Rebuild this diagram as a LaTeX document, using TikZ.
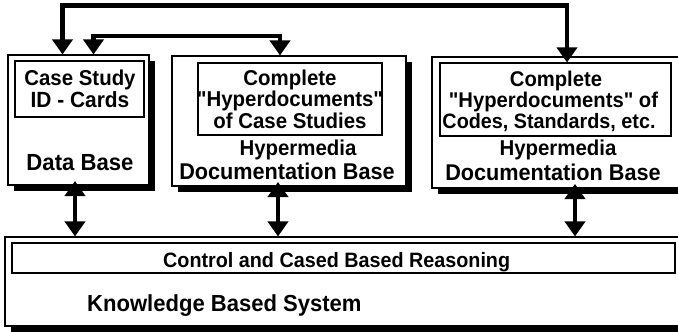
\documentclass[tikz,border=0pt]{standalone}
\usepackage{fontspec}
\setmainfont{Liberation Sans}[Ligatures=TeXOff, FakeStretch=0.95]
\usetikzlibrary{arrows.meta,shadows}
\tikzset{
  outerbox/.style={draw=black, line width=1.1pt, fill=white, inner sep=0pt,
    drop shadow={shadow xshift=5.5pt, shadow yshift=-6pt, fill=black, opacity=1}},
  innerbox/.style={draw=black, line width=1.1pt, fill=white, inner sep=0pt},
  conn/.style={line width=4.5pt, {Triangle[width=20pt,length=15pt]}-{Triangle[width=20pt,length=15pt]}},
  lbl/.style={anchor=base, inner sep=0pt, font=\bfseries},
}
\newcommand{\fs}[1]{\fontsize{#1}{#1}\selectfont}
\begin{document}
\begin{tikzpicture}[x=1pt,y=-1pt]
\clip (0,0) rectangle (678,332);
\fill[white] (0,0) rectangle (678,332);
% boxes
\node[outerbox, minimum width=141pt, minimum height=130pt] (b1) at (78.5,120) {};
\node[innerbox, minimum width=129pt, minimum height=56pt] (b1in) at (79.5,89) {};
\node[outerbox, minimum width=234pt, minimum height=130pt] (b2) at (289,121) {};
\node[innerbox, minimum width=184pt, minimum height=72pt] (b2in) at (290,99) {};
\node[outerbox, minimum width=258pt, minimum height=131pt] (b3) at (561,122.5) {};
\node[innerbox, minimum width=231pt, minimum height=73pt] (b3in) at (555.5,99.5) {};
\node[outerbox, minimum width=695pt, minimum height=89pt] (kb) at (352.5,281.5) {};
\node[innerbox, minimum width=663pt, minimum height=30pt] (kbin) at (343.5,258) {};
% texts
\node[lbl] (t1a) at (80,85) {\fs{21.5}Case Study};
\node[lbl] (t1b) at (80,107) {\fs{22}ID - Cards};
\node[lbl] (t1c) at (80,170) {\fs{23.3}Data Base};
\node[lbl] (t2a) at (290,85) {\fs{21.5}Complete};
\node[lbl] (t2b) at (290,106.5) {\fs{21.5}"Hyperdocuments"};
\node[lbl] (t2c) at (290,128) {\fs{21.5}of Case Studies};
\node[lbl] (t2d) at (298,155) {\fs{21.5}Hypermedia};
\node[lbl] (t2e) at (287,179) {\fs{22.8}Documentation Base};
\node[lbl] (t3a) at (556,86) {\fs{21.3}Complete};
\node[lbl] (t3b) at (553.5,107) {\fs{21.3}"Hyperdocuments" of};
\node[lbl] (t3c) at (549,128) {\fs{20.8}Codes, Standards, etc.};
\node[lbl] (t3d) at (558,155) {\fs{21.5}Hypermedia};
\node[lbl] (t3e) at (553,180) {\fs{22.8}Documentation Base};
\node[lbl, anchor=base west] (t4a) at (163,267) {\fs{20.8}Control and Cased Based Reasoning};
\node[lbl, anchor=base west] (t4b) at (87,311) {\fs{23.2}Knowledge Based System};
% routing points
\coordinate (r1) at (62.5,5.5);
\coordinate (r2) at (567,5.5);
\coordinate (r3) at (93.5,36);
\coordinate (r4) at (280,36);
\coordinate (v1) at (75,181);
\coordinate (v2) at (278,182);
\coordinate (v3) at (575,184);
% connectors
\draw[conn] (b1.north -| r1) -- (r1) -- (r2) -- (r2 |- b3in.north);
\draw[conn] (b1.north -| r3) -- (r3) -- (r4) -- (r4 |- b2.north);
\draw[conn] (v1) -- (v1 |- kb.north);
\draw[conn] (v2) -- (v2 |- kb.north);
\draw[conn] (v3) -- (v3 |- kb.north);
\end{tikzpicture}
\end{document}
